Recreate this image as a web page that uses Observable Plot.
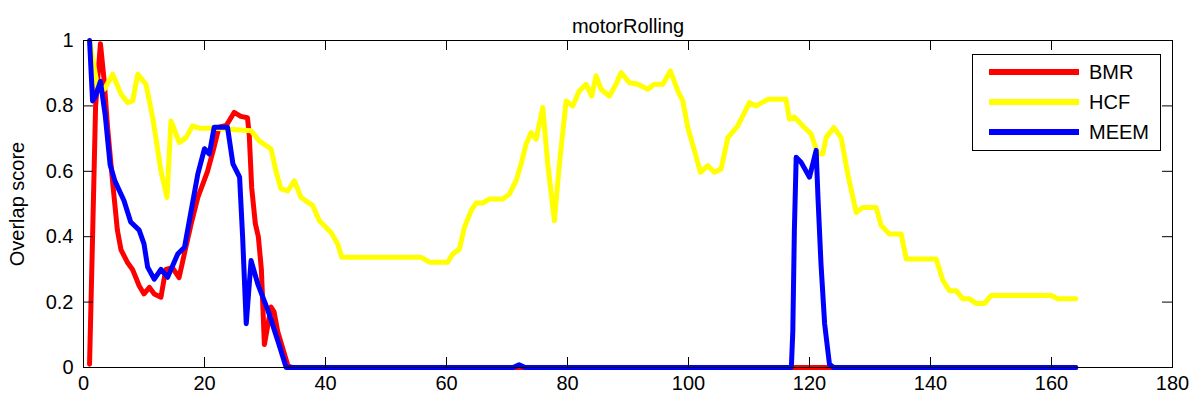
<!DOCTYPE html>
<html>
<head>
<meta charset="utf-8">
<script src="https://cdn.jsdelivr.net/npm/d3@7"></script>
<script src="https://cdn.jsdelivr.net/npm/@observablehq/plot@0.6"></script>
<style>
  html, body { margin: 0; padding: 0; background: #fff; }
  #wrap { position: relative; width: 1194px; height: 399px; font-family: "Liberation Sans", Arial, Helvetica, sans-serif; }
  #legend { position: absolute; left: 972px; top: 54px; width: 187px; height: 95px; border: 1px solid #000; background: #fff; }
</style>
</head>
<body>
<div id="wrap"><div id="legend"></div></div>
<script>
const chartTitle = "motorRolling";
const yLabel = "Overlap score";
const xTicks = [0, 20, 40, 60, 80, 100, 120, 140, 160, 180];
const yTicks = [0, 0.2, 0.4, 0.6, 0.8, 1];
const seriesNames = ["BMR", "HCF", "MEEM"];
const seriesColors = ["#ff0000", "#ffff00", "#0000ff"];

// [frame, overlap score]
const bmr = [
  [1,0.01],[1.5,0.4],[2,0.8],[2.8,0.99],[3.4,0.88],[4,0.73],[4.8,0.57],[5.6,0.42],[6.2,0.36],
  [7.3,0.32],[8.1,0.30],[9.2,0.25],[10,0.225],[10.9,0.245],[11.7,0.225],[12.8,0.215],
  [13.6,0.30],[14.7,0.305],[15.8,0.275],[16.7,0.35],[17.8,0.44],[18.9,0.52],[20.5,0.60],
  [21.6,0.675],[22.4,0.735],[23.6,0.74],[24.9,0.78],[26,0.768],[27.1,0.764],[27.4,0.71],
  [27.8,0.55],[28.4,0.44],[28.9,0.40],[29.4,0.30],[29.9,0.07],[31,0.185],[31.5,0.17],
  [32.1,0.11],[33.8,0.005],[34.5,0],[164,0]
];
const hcf = [
  [1,1.0],[2.35,0.856],[3.44,0.851],[4.83,0.897],[6.2,0.836],[7.31,0.81],[8.13,0.815],
  [8.96,0.897],[10.33,0.866],[11.44,0.764],[12.81,0.60],[13.8,0.52],[14.46,0.754],
  [15.84,0.688],[16.94,0.703],[18.05,0.739],[19.14,0.732],[21.62,0.732],[27.69,0.724],
  [29.06,0.693],[31.0,0.668],[31.82,0.60],[32.65,0.546],[33.76,0.54],[34.85,0.571],
  [35.95,0.52],[37.9,0.495],[38.98,0.449],[40.92,0.413],[42.02,0.378],[42.68,0.337],
  [55.8,0.337],[57.17,0.322],[60.2,0.322],[61.03,0.347],[62.13,0.362],[62.95,0.428],
  [64.06,0.479],[64.89,0.503],[66.0,0.503],[67.09,0.515],[69.3,0.515],[70.39,0.53],
  [71.5,0.571],[72.33,0.622],[73.15,0.683],[73.98,0.718],[74.81,0.698],[75.91,0.795],
  [76.74,0.622],[77.83,0.449],[78.66,0.622],[79.77,0.815],[80.87,0.80],[81.96,0.846],
  [83.07,0.866],[84.01,0.83],[84.72,0.892],[85.55,0.851],[86.92,0.83],[88.03,0.866],
  [88.86,0.902],[90.23,0.871],[91.62,0.866],[93.27,0.851],[94.36,0.866],[95.75,0.866],
  [97.0,0.907],[98.23,0.846],[99.06,0.815],[99.88,0.734],[100.97,0.664],[101.97,0.597],
  [103.19,0.617],[104.28,0.597],[105.39,0.607],[106.5,0.703],[108.15,0.739],[110.07,0.81],
  [111.18,0.80],[113.11,0.82],[116.13,0.82],[116.68,0.759],[117.5,0.766],[119.16,0.734],
  [120.27,0.714],[121.37,0.653],[122.2,0.653],[122.74,0.703],[124.02,0.734],[125.23,0.703],
  [126.34,0.591],[127.71,0.474],[128.82,0.489],[131.02,0.489],[131.85,0.434],[133.21,0.408],
  [135.15,0.408],[135.98,0.332],[140.94,0.332],[142.05,0.266],[143.13,0.235],[144.24,0.235],
  [145.35,0.21],[146.44,0.21],[147.55,0.196],[148.92,0.196],[150.03,0.22],[159.94,0.22],
  [161.05,0.21],[164,0.21]
];
const meem = [
  [1,1.0],[1.5,0.815],[2.0,0.83],[2.8,0.875],[3.6,0.77],[4.4,0.62],[5.2,0.57],[6.7,0.51],
  [7.8,0.445],[9.2,0.42],[10,0.378],[10.6,0.307],[11.7,0.27],[12.8,0.30],[13.9,0.276],
  [15.6,0.348],[16.7,0.368],[17.8,0.48],[18.9,0.592],[20,0.669],[20.8,0.653],[21.6,0.735],
  [23.8,0.735],[24.7,0.623],[25.8,0.582],[26.3,0.40],[26.9,0.134],[27.7,0.327],[28.8,0.256],
  [30.5,0.174],[32.1,0.083],[33.5,0.0],[71,0],[72,0.008],[73,0],[117,0],[117.24,0.11],
  [117.5,0.42],[117.8,0.643],[118.6,0.628],[120.0,0.582],[121.1,0.664],[121.4,0.52],
  [121.9,0.317],[122.5,0.134],[123.3,0.01],[124,0],[164,0]
];

const seriesData = [bmr, hcf, meem];
const table = seriesData.flatMap((arr, i) => arr.map(([x, y]) => ({series: seriesNames[i], x, y})));

const W = 1194, H = 399, mL = 83, mR = 22, mT = 40, mB = 32;
const frameW = W - mL - mR, frameH = H - mT - mB, tick = 10;

const chart = Plot.plot({
  width: W, height: H,
  marginLeft: mL, marginRight: mR, marginTop: mT, marginBottom: mB,
  style: {fontFamily: '"Liberation Sans", Arial, Helvetica, sans-serif', fontSize: "20px", background: "#fff", color: "#000"},
  x: {domain: [0, 180]},
  y: {domain: [0, 1]},
  color: {domain: seriesNames, range: seriesColors},
  marks: [
    Plot.line(table, {x: "x", y: "y", z: "series", stroke: "series", strokeWidth: 5, strokeLinejoin: "round"}),
    Plot.frame({stroke: "#000", strokeWidth: 1}),
    Plot.ruleX(xTicks, {x: d => d, insetTop: frameH - tick, stroke: "#000"}),
    Plot.ruleX(xTicks, {x: d => d, insetBottom: frameH - tick, stroke: "#000"}),
    Plot.ruleY(yTicks, {y: d => d, insetRight: frameW - tick, stroke: "#000"}),
    Plot.ruleY(yTicks, {y: d => d, insetLeft: frameW - tick, stroke: "#000"}),
    Plot.axisX(xTicks, {tickSize: 0, tickPadding: 8, label: null, fontSize: 20}),
    Plot.axisY(yTicks, {tickSize: 0, tickPadding: 10, label: null, fontSize: 20, tickFormat: d3.format("~g")}),
    Plot.text([chartTitle], {frameAnchor: "top", dy: -22, fontSize: 20, textAnchor: "middle"}),
    Plot.text([yLabel], {frameAnchor: "left", dx: -66, rotate: -90, fontSize: 20, textAnchor: "middle"})
  ]
});
document.getElementById("wrap").prepend(chart);

// legend
const lg = d3.select("#legend").append("svg").attr("width", 187).attr("height", 95);
seriesNames.forEach((name, i) => {
  const cy = 17 + i * 30;
  lg.append("line").attr("x1", 16).attr("x2", 106).attr("y1", cy).attr("y2", cy)
    .attr("stroke", seriesColors[i]).attr("stroke-width", 6);
  lg.append("text").attr("x", 116).attr("y", cy).attr("dy", "0.36em")
    .attr("font-size", 20).attr("fill", "#000")
    .attr("font-family", '"Liberation Sans", Arial, Helvetica, sans-serif').text(name);
});
</script>
</body>
</html>
